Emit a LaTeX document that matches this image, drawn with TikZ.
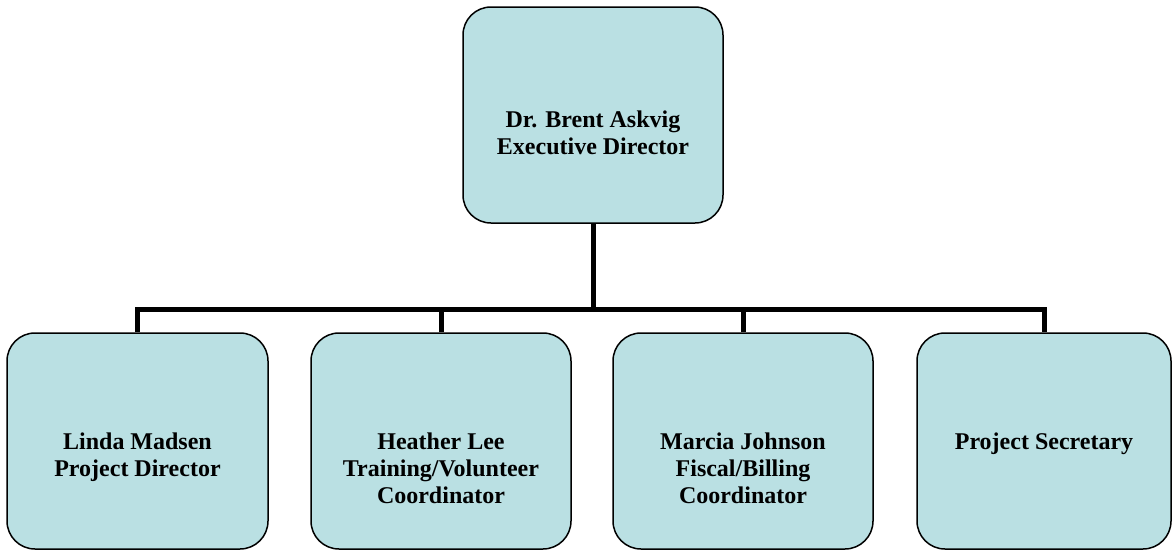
\documentclass[tikz,border=0pt]{standalone}
\usepackage{fontspec}
\setmainfont{Liberation Serif}
\definecolor{boxfill}{RGB}{186,224,227}
\begin{document}
\begin{tikzpicture}[x=1pt,y=-1pt,
  box/.style={draw=black, line width=1.5pt, fill=boxfill, rounded corners=28pt, minimum height=216pt, inner sep=0pt},
  label/.style={align=center, font=\fontsize{24}{27}\selectfont\bfseries, inner sep=0pt, anchor=north},
  conn/.style={line width=5pt, line join=miter, line cap=rect}]
\useasboundingbox (0,0) rectangle (1172,552);
\coordinate (bar) at (0,309);
% boxes
\node[box, minimum width=260pt] (top) at (593,115) {};
\node[box, minimum width=261pt] (b1) at (137.5,441) {};
\node[box, minimum width=260pt] (b2) at (441,441) {};
\node[box, minimum width=260pt] (b3) at (743,441) {};
\node[box, minimum width=254pt] (b4) at (1044,441) {};
% connectors
\begin{scope}[on background layer/.style={}]
\end{scope}
\draw[conn, line cap=butt] (top.south) -- (top.south |- bar);
\draw[conn, line cap=butt] (b1.north) -- (b1.north |- bar) -- (b4.north |- bar) -- (b4.north);
\draw[conn, line cap=butt] (b2.north) -- (b2.north |- bar);
\draw[conn, line cap=butt] (b3.north) -- (b3.north |- bar);
% texts
\node[label] (ttop) at (593,111) {Dr. Brent Askvig\\Executive Director};
\node[label] (t1) at (137.5,433) {Linda Madsen\\Project Director};
\node[label] (t2) at (441,433) {Heather Lee\\Training/Volunteer\\Coordinator};
\node[label] (t3) at (743,433) {Marcia Johnson\\Fiscal/Billing\\Coordinator};
\node[label] (t4) at (1044,433) {Project Secretary};
\end{tikzpicture}
\end{document}
